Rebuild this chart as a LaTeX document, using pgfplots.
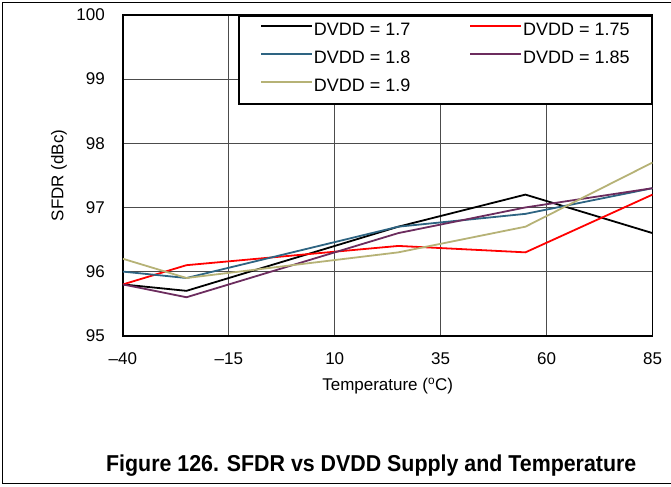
\documentclass[border=0pt]{standalone}
\usepackage{pgfplots}
\pgfplotsset{compat=1.18}
\usepackage{fontspec}
\setmainfont{Liberation Sans}

\definecolor{c17}{rgb}{0,0,0}
\definecolor{c175}{rgb}{1,0,0}
\definecolor{c18}{RGB}{46,100,130}
\definecolor{c185}{RGB}{108,44,94}
\definecolor{c19}{RGB}{182,178,118}

\begin{document}
\begin{tikzpicture}
% page frame
\path (0pt,0pt) rectangle (671pt,487pt);
\draw[line width=1pt] (2.5pt,3pt) -- (2.5pt,484.5pt) -- (671pt,484.5pt);
\draw[line width=1pt] (2.5pt,3pt) -- (671pt,3pt);

\begin{axis}[
  at={(123pt,151pt)}, anchor=south west,
  scale only axis, width=530pt, height=321pt,
  xmin=-40, xmax=85, ymin=95, ymax=100,
  xtick={-40,-15,10,35,60,85},
  xticklabels={\textendash40,\textendash15,10,35,60,85},
  ytick={95,96,97,98,99,100},
  /pgf/number format/assume math mode=true,
  tick label style={font=\fontsize{17}{19}\selectfont, inner sep=0pt},
  label style={font=\fontsize{17}{19}\selectfont},
  xlabel={Temperature (\textsuperscript{o}C)},
  ylabel={SFDR (dBc)},
  xlabel style={at={(axis description cs:0.5,0)}, anchor=center, yshift=-50pt},
  ylabel style={at={(axis description cs:-0.1208,0.5)}, anchor=center},
  major tick length=0pt,
  xticklabel style={anchor=north, yshift=-17pt},
  yticklabel style={anchor=east, xshift=-18pt},
  grid=major,
  major grid style={black!70, line width=0.8pt},
  axis line style={line width=1.8pt},
  legend columns=2,
  legend style={at={(1,1)}, anchor=north east, draw=black, line width=1.8pt,
    font=\fontsize{18}{20}\selectfont, inner xsep=21pt, inner ysep=7pt,
    row sep=10pt,
    /tikz/every even column/.append style={column sep=58pt},
    nodes={inner sep=1pt, text height=12pt, text depth=4pt}},
  legend cell align=left,
  legend image code/.code={\draw[#1, line width=1.8pt] (0pt,6pt) -- (51pt,6pt);},
]
\addplot[c17, line width=1.8pt] coordinates {(-40,95.8) (-25,95.7) (25,96.7) (55,97.2) (85,96.6)};
\addlegendentry{DVDD = 1.7}
\addplot[c175, line width=1.8pt] coordinates {(-40,95.8) (-25,96.1) (25,96.4) (55,96.3) (85,97.2)};
\addlegendentry{DVDD = 1.75}
\addplot[c18, line width=1.8pt] coordinates {(-40,96.0) (-25,95.9) (25,96.7) (55,96.9) (85,97.3)};
\addlegendentry{DVDD = 1.8}
\addplot[c185, line width=1.8pt] coordinates {(-40,95.8) (-25,95.6) (25,96.6) (55,97.0) (85,97.3)};
\addlegendentry{DVDD = 1.85}
\addplot[c19, line width=1.8pt] coordinates {(-40,96.2) (-25,95.9) (25,96.3) (55,96.7) (85,97.7)};
\addlegendentry{DVDD = 1.9}
\end{axis}

\node[anchor=base, font=\bfseries\fontsize{23}{26}\selectfont, inner sep=0pt] at (371.5pt,15pt) {\scalebox{0.93}[1]{Figure 126. SFDR vs DVDD Supply and Temperature}};
\end{tikzpicture}
\end{document}
